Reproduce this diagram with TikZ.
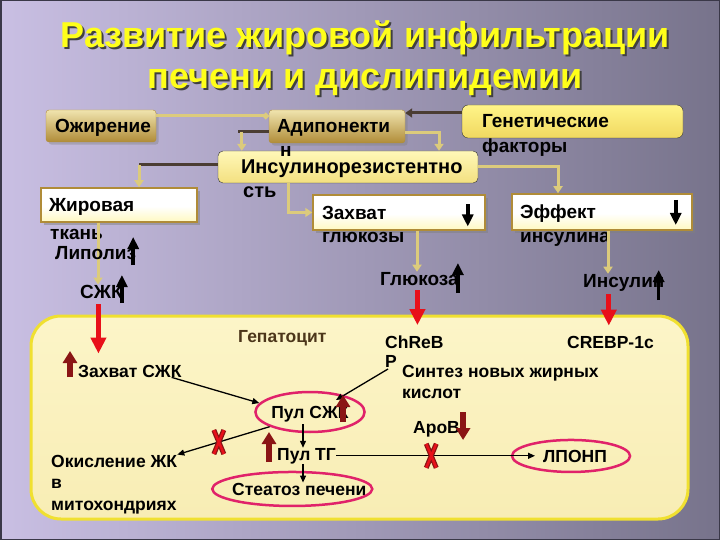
\documentclass[tikz,border=0pt]{standalone}
\usepackage{fontspec}
\setmainfont{Liberation Sans}
\usetikzlibrary{arrows.meta, positioning, shadows, shapes.geometric}

\definecolor{bgleft}{HTML}{C9BFE3}
\definecolor{bgright}{HTML}{77738B}
\definecolor{framegray}{HTML}{3A3848}
\definecolor{titleyellow}{HTML}{FFFF1A}
\definecolor{goldline}{HTML}{DCCB7C}
\definecolor{brownline}{HTML}{4B3D33}
\definecolor{darkgold}{HTML}{B08C38}
\definecolor{lightgold}{HTML}{F0E4AE}
\definecolor{paleyellow}{HTML}{FFF8B8}
\definecolor{richyellow}{HTML}{F0D860}
\definecolor{brightyellow}{HTML}{FFF488}
\definecolor{liverborder}{HTML}{F0E030}
\definecolor{livertop}{HTML}{FCF5C8}
\definecolor{livermid}{HTML}{E3C968}
\definecolor{liverbottom}{HTML}{F8EDB4}
\definecolor{redarrow}{HTML}{E8101A}
\definecolor{darkred}{HTML}{8A1515}
\definecolor{ringred}{HTML}{E0226A}
\definecolor{hepatext}{HTML}{4C361A}

\pgfdeclareverticalshading{bevel}{100bp}{color(0bp)=(richyellow); color(22bp)=(paleyellow); color(48bp)=(white); color(74bp)=(white); color(100bp)=(richyellow)}

\begin{document}
\begin{tikzpicture}[x=1pt,y=-1pt,
    every node/.style={inner sep=0pt},
    heading/.style={font=\bfseries\fontsize{36}{40}\selectfont, anchor=base},
    uppertext/.style={font=\bfseries\fontsize{19}{22}\selectfont, anchor=base west},
    lowertext/.style={font=\bfseries\fontsize{17.5}{21}\selectfont, anchor=base west},
    boxtext/.style={font=\bfseries\fontsize{19}{22}\selectfont, align=left, text height=13pt, text depth=0pt},
    dimbox/.style={boxtext, rounded corners=3pt, draw=darkgold, top color=lightgold, bottom color=darkgold, drop shadow={opacity=.4}},
    yellowbox/.style={boxtext, rounded corners=6pt, draw=black!80, top color=brightyellow, bottom color=richyellow},
    palebox/.style={boxtext, rounded corners=5pt, draw=black!80, top color=paleyellow, bottom color=richyellow!80},
    whitebox/.style={boxtext, draw=darkgold, line width=1.5pt, shading=bevel, drop shadow={opacity=.5}},
    liver/.style={draw=liverborder, line width=3pt, rounded corners=30pt, top color=livertop, middle color=livermid, bottom color=liverbottom},
    goldlink/.style={draw=goldline, line width=3pt},
    brownlink/.style={draw=brownline, line width=3pt},
    goldarrow/.style={goldlink, -{Triangle[width=9pt,length=7pt]}},
    redlink/.style={draw=redarrow, line width=5pt, -{Triangle[width=15pt,length=16pt]}},
    thinlink/.style={draw=black, line width=1.3pt, -{Triangle[width=6pt,length=7pt]}},
    upmark/.style={draw=black, line width=3.5pt, -{Triangle[width=11pt,length=12pt]}},
    redmark/.style={draw=darkred, line width=6pt, -{Triangle[width=14pt,length=12pt]}},
    ring/.style={draw=ringred, line width=2.5pt},
    blockmark/.style={line width=5pt, draw=darkred}
  ]
\useasboundingbox (0,0) rectangle (720,540);
\fill[left color=bgleft, right color=bgright] (0,0) rectangle (720,540);
\draw[framegray, line width=3pt] (0,0) rectangle (720,540);

% title
\node[heading, text=black!75] (headshadeA) at (367,50) {Развитие жировой инфильтрации};
\node[heading, text=titleyellow] (headA) at (365,48) {Развитие жировой инфильтрации};
\node[heading, text=black!75] (headshadeB) at (367,91) {печени и дислипидемии};
\node[heading, text=titleyellow] (headB) at (365,89) {печени и дислипидемии};

% upper boxes
\node[dimbox, minimum width=110pt, minimum height=32pt, inner xsep=9pt, text width=92pt] (ozh) at (101,126) {Ожирение};
\node[dimbox, minimum width=136pt, minimum height=33pt, inner xsep=8pt, text width=120pt] (adipo) at (337,126.5) {Адипонекти};
\node[yellowbox, minimum width=221pt, minimum height=33pt, inner xsep=20pt, text width=181pt] (gen) at (572.5,121.5) {Генетические};
\node[palebox, minimum width=260pt, minimum height=32pt, inner xsep=23pt, text width=214pt, font=\bfseries\fontsize{20}{22}\selectfont] (insul) at (348,167) {Инсулинорезистентно};
\node[whitebox, minimum width=156pt, minimum height=34pt, inner xsep=8pt, text width=140pt] (fat) at (119,205) {Жировая};
\node[whitebox, minimum width=172pt, minimum height=35pt, inner xsep=9pt, text width=154pt] (zakh) at (399,212.5) {Захват};
\node[whitebox, minimum width=180pt, minimum height=36pt, inner xsep=8pt, text width=164pt] (effekt) at (602,212) {Эффект};

\node[uppertext] (adipoend) at (280,157) {н};
\node[uppertext] (genend) at (482,153) {факторы};
\node[uppertext, font=\bfseries\fontsize{20}{22}\selectfont] (insulend) at (243,197) {сть};
\node[uppertext] (fatend) at (50,240) {ткань};
\node[uppertext] (zakhend) at (322,243) {глюкозы};
\node[uppertext] (effektend) at (520,243) {инсулина};

\node[uppertext] (szhk) at (80,298) {СЖК};
\node[uppertext] (gluc) at (380,285) {Глюкоза};
\node[uppertext] (insulin) at (583,287) {Инсулин};

% upper links
\draw[goldlink, -{Circle[length=6pt]}] ([yshift=10pt]ozh.east) -- ([yshift=10pt]ozh.east -| adipo.west);
\coordinate (kneeA) at ([xshift=-31pt,yshift=-5.5pt]adipo.west);
\draw[brownlink] ([yshift=-5.5pt]adipo.west) -- (kneeA);
\draw[goldarrow] ([xshift=4pt]kneeA) -- ([xshift=4pt]kneeA |- insul.north);
\draw[brownlink, -{Triangle[width=9pt,length=7pt]}] ([yshift=8.5pt]gen.west) -- ([yshift=8.5pt]gen.west -| adipo.east);
\draw[goldarrow] ([yshift=-6.5pt]adipo.east) -| ([xshift=91pt]insul.north);
\coordinate (kneeB) at ([xshift=20pt]fat.north |- insul.west);
\draw[brownlink] ([yshift=2pt]insul.west) -- ([yshift=2pt]kneeB);
\draw[goldarrow] ([yshift=2pt]kneeB) -- ([xshift=20pt]fat.north);
\draw[goldarrow] ([xshift=-60pt]insul.south) |- (zakh.west);
\draw[goldarrow] (insul.east) -| ([xshift=-44pt]effekt.north);
\draw[goldarrow] ([xshift=18pt]zakh.south) -- ([xshift=18pt]zakh.south |- gluc.north);
\draw[goldarrow] ([xshift=6pt]effekt.south) -- ([xshift=6pt]effekt.south |- insulin.north);
\draw[goldarrow] ([xshift=-21pt]fat.south) -- ([xshift=-21pt]fat.south |- szhk.north);

\node[uppertext] (lipoliz) at (55,259) {Липолиз};

% rising and falling marks
\draw[upmark] ([xshift=-3pt,yshift=-6pt]lipoliz.base east) -- ++(0,-28);
\draw[upmark] ([xshift=-1pt,yshift=-5pt]szhk.base east) -- ++(0,-28);
\draw[upmark] ([xshift=-1pt,yshift=-8pt]gluc.base east) -- ++(0,-30);
\draw[upmark] ([xshift=-6pt,yshift=-13pt]insulin.base east) -- ++(0,-30);
\draw[upmark] ([xshift=-18pt,yshift=8pt]zakh.east) -- ++(0,22);
\draw[upmark] ([xshift=-17pt,yshift=12pt]effekt.east) -- ++(0,25);

% hepatocyte
\node[liver, minimum width=657pt, minimum height=203pt] (cell) at (359.5,417.5) {};
\node[lowertext, text=hepatext] (hepat) at (238,342) {Гепатоцит};
\node[lowertext] (zakhszhk) at (78,377) {Захват СЖК};
\node[lowertext] (chrebp) at (385,348) {ChReB};
\node[lowertext] (chrebpend) at (385,367) {P};
\node[lowertext] (crebp) at (567,348) {CREBP-1c};
\node[lowertext] (synth) at (402,377) {Синтез новых жирных};
\node[lowertext] (synthend) at (402,398) {кислот};
\node[lowertext] (apob) at (413,433) {АроВ};
\node[lowertext] (okisl) at (51,467) {Окисление ЖК};
\node[lowertext] (okislB) at (51,488) {в};
\node[lowertext] (okislC) at (51,510) {митохондриях};
\node[lowertext] (pooltg) at (277,460) {Пул ТГ};
\node[lowertext] (steatoz) at (232,495) {Стеатоз печени};
\node[lowertext] (lponp) at (543,462) {ЛПОНП};
\node[ring, ellipse, font=\bfseries\fontsize{17.5}{21}\selectfont, text height=12.5pt, text depth=0pt, minimum width=104pt, minimum height=40pt] (pool) at (310,412) {Пул СЖК};
\draw[ring] ([xshift=-7pt]steatoz.center) ellipse [x radius=80, y radius=17];
\draw[ring] ([xshift=-4pt]lponp.center) ellipse [x radius=59, y radius=16];

% signals into the cell
\draw[redlink] ([xshift=-3pt,yshift=-6pt]szhk.south) -- ([xshift=-3pt,yshift=11pt]szhk.south |- zakhszhk.north);
\draw[redlink] ([xshift=-2pt,yshift=-5pt]gluc.south) -- ([xshift=-2pt,yshift=10pt]gluc.south |- chrebp.north);
\draw[redlink] ([xshift=-15pt,yshift=-3pt]insulin.south) -- ([xshift=-15pt,yshift=10pt]insulin.south |- crebp.north);

% paths inside the cell
\draw[thinlink] ([xshift=-10pt]zakhszhk.south east) -- (pool.170);
\draw[thinlink] ([xshift=-14pt,yshift=8pt]synth.base west) -- ([xshift=26pt,yshift=12pt]pool.center);
\draw[thinlink] (pool.200) -- (okisl.north east) coordinate[pos=.55] (blockA);
\draw[thinlink] ([xshift=-7pt,yshift=9pt]pool.south) -- ([xshift=-7pt]pool.south |- pooltg.north);
\draw[thinlink] ([xshift=-3.5pt]pooltg.south) -- ([xshift=-3.5pt]pooltg.south |- steatoz.north);
\draw[thinlink, shorten >=8pt] (pooltg.east) -- (pooltg.east -| lponp.west) coordinate[pos=.46] (blockB);

\draw[blockmark] ([shift={(-5,-12)}]blockA) -- ([shift={(5,12)}]blockA) ([shift={(5,-12)}]blockA) -- ([shift={(-5,12)}]blockA);
\draw[blockmark, draw=redarrow, line width=2.5pt] ([shift={(-5,-12)}]blockA) -- ([shift={(5,12)}]blockA) ([shift={(5,-12)}]blockA) -- ([shift={(-5,12)}]blockA);
\draw[blockmark] ([shift={(-5,-12)}]blockB) -- ([shift={(5,12)}]blockB) ([shift={(5,-12)}]blockB) -- ([shift={(-5,12)}]blockB);
\draw[blockmark, draw=redarrow, line width=2.5pt] ([shift={(-5,-12)}]blockB) -- ([shift={(5,12)}]blockB) ([shift={(5,-12)}]blockB) -- ([shift={(-5,12)}]blockB);

\draw[redmark] ([xshift=-8pt]zakhszhk.base west) -- ++(0,-26);
\draw[redmark] ([xshift=33pt,yshift=-10pt]pool.center) -- ++(0,-27);
\draw[redmark] ([xshift=-8pt,yshift=-2pt]pooltg.base west) -- ++(0,-30);
\draw[redmark] ([xshift=3pt,yshift=21pt]apob.base east) -- ++(0,28);
\end{tikzpicture}
\end{document}
